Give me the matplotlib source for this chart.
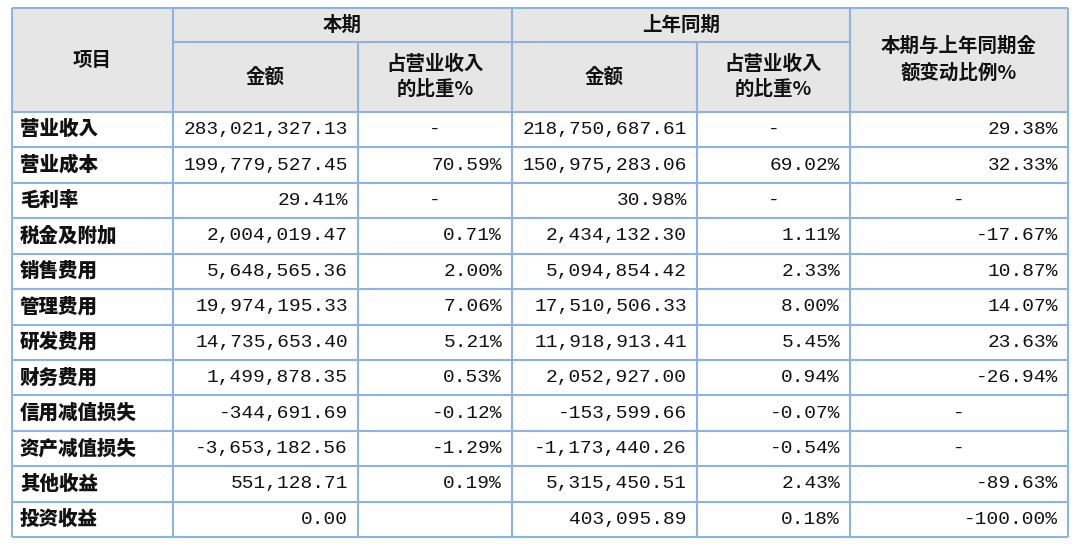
import matplotlib
matplotlib.use("Agg")
import matplotlib.pyplot as plt
from matplotlib.patches import Rectangle
from matplotlib import font_manager as fm

items = ["营业收入", "营业成本", "毛利率", "税金及附加", "销售费用", "管理费用", "研发费用",
         "财务费用", "信用减值损失", "资产减值损失", "其他收益", "投资收益"]
cur_amount = ["283,021,327.13", "199,779,527.45", "29.41%", "2,004,019.47", "5,648,565.36",
              "19,974,195.33", "14,735,653.40", "1,499,878.35", "-344,691.69", "-3,653,182.56",
              "551,128.71", "0.00"]
cur_ratio = ["-", "70.59%", "-", "0.71%", "2.00%", "7.06%", "5.21%", "0.53%", "-0.12%",
             "-1.29%", "0.19%", ""]
prev_amount = ["218,750,687.61", "150,975,283.06", "30.98%", "2,434,132.30", "5,094,854.42",
               "17,510,506.33", "11,918,913.41", "2,052,927.00", "-153,599.66", "-1,173,440.26",
               "5,315,450.51", "403,095.89"]
prev_ratio = ["-", "69.02%", "-", "1.11%", "2.33%", "8.00%", "5.45%", "0.94%", "-0.07%",
              "-0.54%", "2.43%", "0.18%"]
change = ["29.38%", "32.33%", "-", "-17.67%", "10.87%", "14.07%", "23.63%", "-26.94%",
          "-", "-", "-89.63%", "-100.00%"]

def find_cjk(bold):
    files = [f for f in fm.findSystemFonts() if "NotoSansCJK" in f.replace(" ", "") or "NotoSansSC" in f]
    pref = [f for f in files if ("Bold" in f) == bold] or files
    if pref:
        return fm.FontProperties(fname=sorted(pref)[0])
    return fm.FontProperties(family=["Noto Sans CJK SC", "Noto Sans CJK JP"], weight="bold" if bold else "normal")

cjk_r = find_cjk(False)
cjk_b = find_cjk(True)
mono = "Liberation Mono"
border = "#8db3e2"
hdr_bg = "#e6e6e6"

W, H = 1080, 550
fig = plt.figure(figsize=(10.8, 5.5), dpi=100)
ax = fig.add_axes([0, 0, 1, 1])
ax.set_xlim(0, W)
ax.set_ylim(H, 0)
ax.axis("off")

xs = [12, 173, 358, 512, 697, 850, 1068]
y_top, y_mid, y_hdr = 8, 42, 112
row_h = (537 - y_hdr) / len(items)

ax.add_patch(Rectangle((xs[0], y_top), xs[-1] - xs[0], y_hdr - y_top, facecolor=hdr_bg, edgecolor="none"))

lw = 1.5
def hl(y, x0, x1):
    ax.plot([x0, x1], [y, y], color=border, lw=lw, solid_capstyle="butt")
def vl(x, y0, y1):
    ax.plot([x, x], [y0, y1], color=border, lw=lw, solid_capstyle="butt")

hl(y_top, xs[0], xs[-1])
hl(y_mid, xs[1], xs[5])
for i in range(len(items) + 1):
    hl(y_hdr + i * row_h, xs[0], xs[-1])
yb = y_hdr + len(items) * row_h
for i, x in enumerate(xs):
    if i in (2, 4):
        vl(x, y_mid, yb)
    else:
        vl(x, y_top, yb)

hk = dict(fontproperties=cjk_b, fontsize=14, fontweight="bold", ha="center", va="center", color="#111111")
ax.text((xs[0] + xs[1]) / 2, (y_top + y_hdr) / 2, "项目", **hk)
ax.text((xs[1] + xs[3]) / 2, (y_top + y_mid) / 2, "本期", **hk)
ax.text((xs[3] + xs[5]) / 2, (y_top + y_mid) / 2, "上年同期", **hk)
ax.text((xs[5] + xs[6]) / 2, (y_top + y_hdr) / 2, "本期与上年同期金\n额变动比例%", linespacing=1.5, **hk)
for a, b in ((1, 2), (3, 4)):
    ax.text((xs[a] + xs[a + 1]) / 2, (y_mid + y_hdr) / 2, "金额", **hk)
    ax.text((xs[b] + xs[b + 1]) / 2, (y_mid + y_hdr) / 2, "占营业收入\n的比重%", linespacing=1.4, **hk)

pad = 10
for i, name in enumerate(items):
    yc = y_hdr + (i + 0.5) * row_h
    ax.text(xs[0] + 8, yc, name, fontproperties=cjk_r, fontsize=14, ha="left", va="center", color="#111111")
    cols = [cur_amount[i], cur_ratio[i], prev_amount[i], prev_ratio[i], change[i]]
    for j, v in enumerate(cols):
        if v == "":
            continue
        if v == "-":
            ax.text((xs[j + 1] + xs[j + 2]) / 2, yc, "-", fontfamily=mono, fontsize=14,
                    ha="center", va="center", color="#111111")
        else:
            ax.text(xs[j + 2] - pad, yc, v, fontfamily=mono, fontsize=14,
                    ha="right", va="center", color="#111111")

fig.savefig("out.png", dpi=100, facecolor="white")
